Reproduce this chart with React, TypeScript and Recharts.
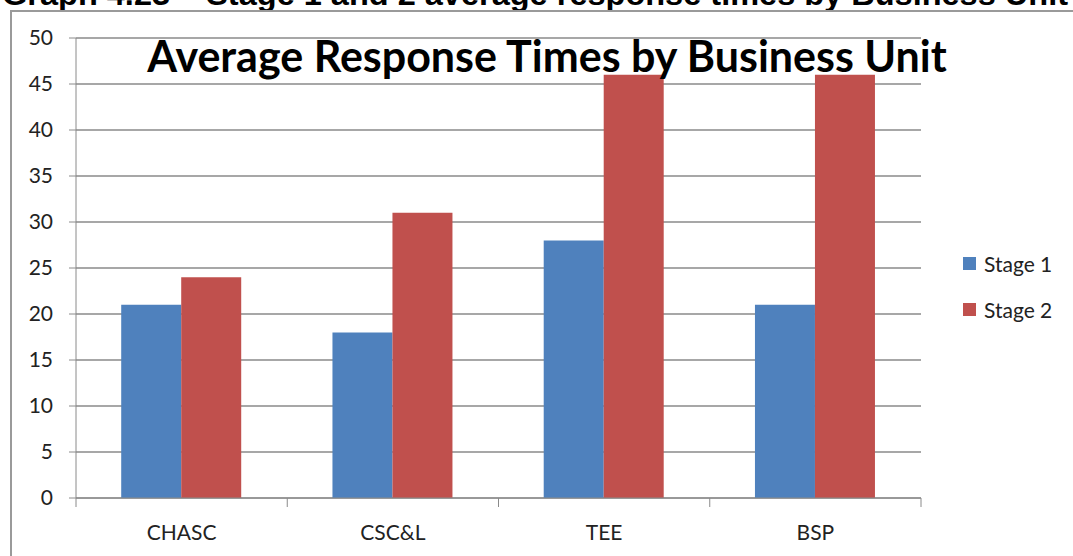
import React from 'react';
import { BarChart, Bar, XAxis, YAxis, CartesianGrid } from 'recharts';

const categories = ['CHASC', 'CSC&L', 'TEE', 'BSP'];
const stage1 = [21, 18, 28, 21];
const stage2 = [24, 31, 46, 46];
const yTicks = [0, 5, 10, 15, 20, 25, 30, 35, 40, 45, 50];
const seriesNames = ['Stage 1', 'Stage 2'];
const seriesColors = ['#4F81BD', '#C0504D'];
const chartTitle = 'Average Response Times by Business Unit';
const pageCaption = 'Graph 4.23 \u2013 Stage 1 and 2 average response times by Business Unit';

const data = categories.map((c, i) => ({ name: c, s1: stage1[i], s2: stage2[i] }));

const FONT = 'Lato, "Open Sans", sans-serif';
const AXIS = '#8a8a8a';

const CatTick = (props: any) => {
  const { x, y, payload, index, visibleTicksCount } = props;
  const half = payload && typeof payload.offset === 'number' && payload.offset > 0 ? payload.offset : 105.6;
  const axisY = y - 9;
  const isLast = index === (visibleTicksCount ?? categories.length) - 1;
  return (
    <g>
      <line x1={x - half} x2={x - half} y1={axisY} y2={axisY + 9} stroke={AXIS} strokeWidth={1} />
      {isLast && <line x1={x + half} x2={x + half} y1={axisY} y2={axisY + 9} stroke={AXIS} strokeWidth={1} />}
      <text x={x} y={axisY + 42} textAnchor="middle" fontFamily={FONT} fontSize={21} fill="#222">
        {payload.value}
      </text>
    </g>
  );
};

export default function App() {
  return (
    <div style={{ position: 'absolute', left: 0, top: 0, width: 1073, height: 556, overflow: 'hidden', background: '#fff' }}>
      <BarChart
        width={1073}
        height={556}
        data={data}
        margin={{ top: 38, right: 152, bottom: 18, left: 0 }}
        barCategoryGap="21.4%"
        barGap={0}
      >
        <CartesianGrid horizontal vertical={false} stroke={AXIS} strokeWidth={1.3} />
        <YAxis
          width={76}
          domain={[0, 50]}
          ticks={yTicks}
          interval={0}
          tickSize={7}
          tickMargin={16}
          axisLine={{ stroke: AXIS }}
          tickLine={{ stroke: AXIS }}
          tick={{ fontFamily: FONT, fontSize: 21, fill: '#222' }}
        />
        <XAxis
          dataKey="name"
          height={40}
          interval={0}
          tickSize={9}
          tickMargin={0}
          tickLine={false}
          axisLine={{ stroke: AXIS }}
          tick={<CatTick />}
        />
        <Bar dataKey="s1" name={seriesNames[0]} fill={seriesColors[0]} isAnimationActive={false} />
        <Bar dataKey="s2" name={seriesNames[1]} fill={seriesColors[1]} isAnimationActive={false} />
      </BarChart>
      <div style={{ position: 'absolute', left: 963, top: 240, fontFamily: FONT, fontSize: 21, color: '#222' }}>
        {seriesNames.map((n, i) => (
          <div key={n} style={{ display: 'flex', alignItems: 'center', height: 46 }}>
            <span style={{ display: 'inline-block', width: 13, height: 13, background: seriesColors[i], marginRight: 8 }} />
            <span>{n}</span>
          </div>
        ))}
      </div>
      <svg width={1073} height={556} style={{ position: 'absolute', left: 0, top: 0, pointerEvents: 'none' }}>
        <text x={2} y={5} fontFamily='"Liberation Sans", Arial, sans-serif' fontWeight="bold" fontSize={32} fill="#000" textLength={1066} lengthAdjust="spacingAndGlyphs">
          {pageCaption}
        </text>
        <line x1={10} x2={1073} y1={11} y2={11} stroke="#9a9a9a" strokeWidth={2} />
        <line x1={11} x2={11} y1={10} y2={556} stroke="#9a9a9a" strokeWidth={2} />
        <text x={547} y={72} textAnchor="middle" fontFamily={FONT} fontWeight="bold" fontSize={43} fill="#000">
          {chartTitle}
        </text>
      </svg>
    </div>
  );
}
